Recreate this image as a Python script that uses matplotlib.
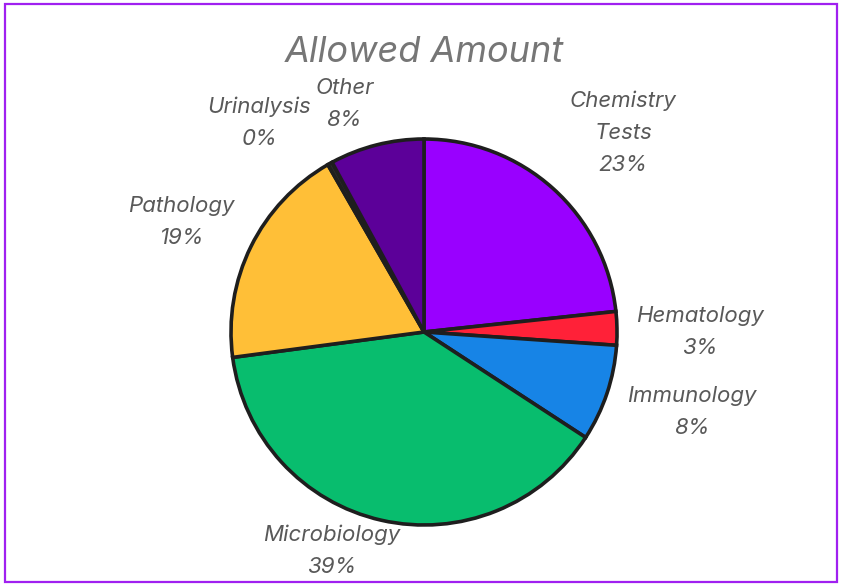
import numpy as np
import matplotlib.pyplot as plt
from matplotlib.patches import Rectangle

# slice data, clockwise from the top
categories = ['Chemistry\nTests', 'Hematology', 'Immunology', 'Microbiology',
              'Pathology', 'Urinalysis', 'Other']
values = [23.3, 2.8, 8.1, 38.7, 18.8, 0.4, 7.9]
colors = ['#9900FF', '#FF2138', '#1784E6', '#08BD6E', '#FFBF37', '#2B2B2B', '#5C0099']

# label placement (distance from centre in radii, angle nudge in degrees)
label_dist = [1.46, 1.43, 1.45, 1.23, 1.38, 1.38, 1.25]
label_nudge = [-3, -1, 2, -10, 2, 9, 5]

plt.rcParams['font.family'] = ['Inter', 'DejaVu Sans']

W, H = 841, 586
fig = plt.figure(figsize=(W / 100, H / 100), dpi=100)
cx, cy, R = 424, 332, 193
ax = fig.add_axes([(cx - R) / W, (H - cy - R) / H, 2 * R / W, 2 * R / H])

wedges, _ = ax.pie(values, colors=colors, startangle=90, counterclock=False,
                   radius=1, wedgeprops=dict(edgecolor='#1E1E1E', linewidth=2.6))
ax.set_xlim(-1, 1)
ax.set_ylim(-1, 1)
ax.set_aspect('equal')
ax.axis('off')

for w, name, v, d, n in zip(wedges, categories, values, label_dist, label_nudge):
    ang = np.deg2rad((w.theta1 + w.theta2) / 2 + n)
    ax.text(d * np.cos(ang), d * np.sin(ang), f"{name}\n{v:.0f}%",
            ha='center', va='center', fontsize=16, style='italic',
            color='#595959', linespacing=1.75)

fig.text(cx / W, 1 - 52 / H, 'Allowed Amount', ha='center', va='center',
         fontsize=26, style='italic', color='#767676')

fig.patches.append(Rectangle((4.5 / W, 4 / H), (W - 9) / W, (H - 8) / H,
                             transform=fig.transFigure, fill=False,
                             edgecolor='#A020F0', linewidth=1.6))

fig.savefig('out.png', dpi=100)
